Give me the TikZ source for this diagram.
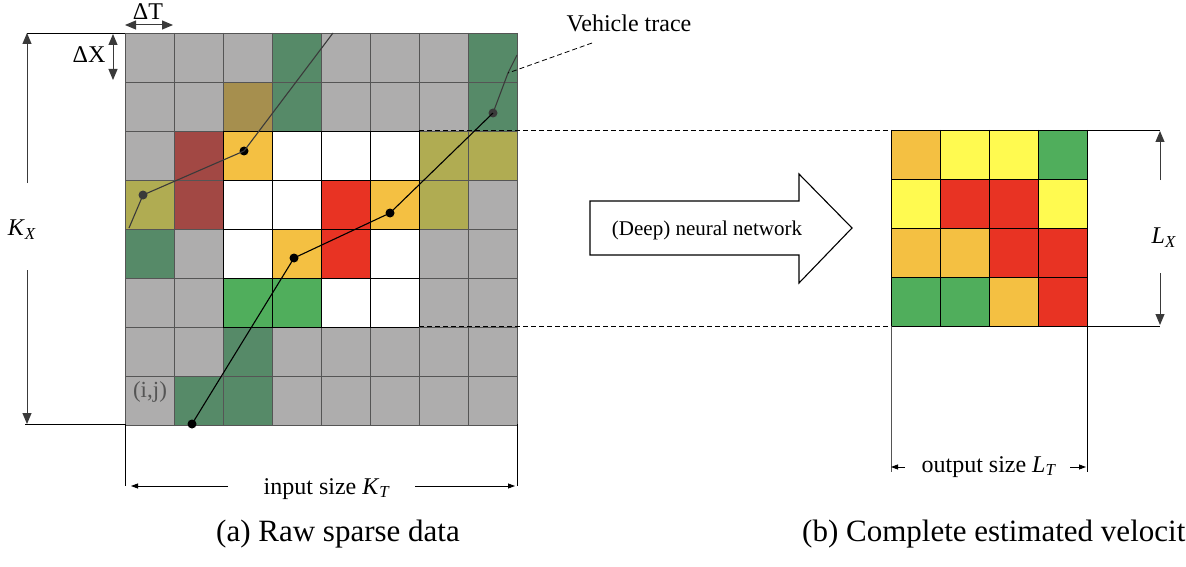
\documentclass[tikz,border=0pt]{standalone}
\usepackage{fontspec}
\setmainfont{Liberation Serif}
\usetikzlibrary{arrows.meta}
\definecolor{cG}{HTML}{AEADAD}
\definecolor{cDG}{HTML}{568A68}
\definecolor{cDR}{HTML}{A24844}
\definecolor{cOB}{HTML}{A68F4E}
\definecolor{cOL}{HTML}{B0AC52}
\definecolor{cO}{HTML}{F4C042}
\definecolor{cR}{HTML}{E83323}
\definecolor{cGr}{HTML}{50AE5C}
\definecolor{cY}{HTML}{FFFA50}
\definecolor{cW}{HTML}{FFFFFF}
\definecolor{cLine}{HTML}{555555}
\definecolor{cTrace}{HTML}{3A3A3A}
\begin{document}
\begin{tikzpicture}[x=1pt,y=-1pt,
  gline/.style={draw=cLine, line width=0.9pt},
  bline/.style={draw=black, line width=0.9pt},
  dimline/.style={draw=black, line width=0.7pt},
  bigarrow/.style={draw=cTrace, line width=1pt, -{Triangle[length=11pt,width=9pt]}},
  bigarrows/.style={draw=cTrace, line width=1pt, {Triangle[length=11pt,width=9pt]}-{Triangle[length=11pt,width=9pt]}},
  smallarrow/.style={draw=black, line width=0.8pt, -{Triangle[length=7pt,width=5pt]}},
  trace/.style={draw=cTrace, line width=1.1pt},
  btrace/.style={draw=black, line width=1.1pt},
  dot/.style={circle, fill=black, inner sep=0pt, minimum size=9pt},
  gdot/.style={circle, fill=cTrace, inner sep=0pt, minimum size=9pt},
  leader/.style={draw=black, line width=0.8pt, dash pattern=on 5pt off 3pt},
  lbl/.style={inner sep=0pt, font=\fontsize{24}{27}\selectfont},
  captxt/.style={inner sep=0pt, font=\fontsize{31}{35}\selectfont}]
\useasboundingbox (0,0) rectangle (1186,567);
% left grid cells
\foreach \row [count=\r from 0] in {{cG,cG,cG,cDG,cG,cG,cG,cDG},{cG,cG,cOB,cDG,cG,cG,cG,cDG},{cG,cDR,cO,cW,cW,cW,cOL,cOL},{cOL,cDR,cW,cW,cR,cO,cOL,cG},{cDG,cG,cW,cO,cR,cW,cG,cG},{cG,cG,cGr,cGr,cW,cW,cG,cG},{cG,cG,cDG,cG,cG,cG,cG,cG},{cG,cDG,cDG,cG,cG,cG,cG,cG}}
  \foreach \col [count=\c from 0] in \row
    \fill[fill=\col] ({125+49*\c},{33+49*\r}) rectangle ++(49,49);
\foreach \i in {0,...,8} {
  \draw[gline] ({125+49*\i},33) -- ({125+49*\i},425);
  \draw[gline] (125,{33+49*\i}) -- (517,{33+49*\i});
}
\foreach \i in {0,...,4} {
  \draw[bline] ({223+49*\i},131) -- ({223+49*\i},327);
  \draw[bline] (223,{131+49*\i}) -- (419,{131+49*\i});
}
\node[lbl, text=cLine, font=\fontsize{23}{26}\selectfont] (ij) at (150,392) {(i,j)};
% right grid cells
\foreach \row [count=\r from 0] in {{cO,cY,cY,cGr},{cY,cR,cR,cY},{cO,cO,cR,cR},{cGr,cGr,cO,cR}}
  \foreach \col [count=\c from 0] in \row
    \fill[fill=\col] ({891+49*\c},{130+49*\r}) rectangle ++(49,49);
\foreach \i in {0,...,4} {
  \draw[bline] ({891+49*\i},130) -- ({891+49*\i},326);
  \draw[bline] (891,{130+49*\i}) -- (1087,{130+49*\i});
}
% vehicle traces
\coordinate (t1a) at (129,228);
\node[gdot] (t1b) at (143,195) {};
\node[dot] (t1c) at (244,151) {};
\coordinate (t1d) at (333,33);
\draw[trace] (t1a) -- (t1b.center) -- (t1c.center) -- (t1d);
\node[dot] (t2a) at (192,424) {};
\node[dot] (t2b) at (294,258) {};
\node[dot] (t2c) at (390,213) {};
\node[gdot] (t2d) at (493,113) {};
\coordinate (t2e) at (508,73);
\coordinate (t2f) at (517,55);
\draw[btrace] (t2a.center) -- (t2b.center) -- (t2c.center) -- (t2d.center);
\draw[trace] (t2d.center) -- (t2e) -- (t2f);
\node[lbl, anchor=base] (vt) at (629,32) {Vehicle trace};
\coordinate (vtl) at (592,43);
\draw[leader] (vtl) -- (t2e);
% dashed projection lines
\coordinate (dt1) at (419,130);
\coordinate (dt2) at (891,130);
\coordinate (db1) at (419,326);
\coordinate (db2) at (891,326);
\draw[leader] (dt1) -- (dt2);
\draw[leader] (db1) -- (db2);
% block arrow
\draw[draw=black, line width=1.1pt, fill=white] (590,201) -- (799,201) -- (799,174) -- (852,228) -- (799,283) -- (799,255) -- (590,255) -- cycle;
\node[inner sep=0pt, font=\fontsize{21}{24}\selectfont, anchor=base] (nn) at (707,235) {(Deep) neural network};
% Delta T / Delta X
\node[lbl] (dT) at (148,12) {ΔT};
\coordinate (dTa) at (125,25);
\coordinate (dTb) at (173,25);
\draw[bigarrows] (dTa) -- (dTb);
\node[lbl] (dX) at (89,55) {ΔX};
\coordinate (dXa) at (113,34);
\coordinate (dXb) at (113,80);
\draw[bigarrows] (dXa) -- (dXb);
% K_X
\coordinate (kl1) at (27,33);
\coordinate (kl2) at (125,33);
\coordinate (kl3) at (25,424);
\coordinate (kl4) at (125,424);
\draw[dimline] (kl1) -- (kl2);
\draw[dimline] (kl3) -- (kl4);
\node[lbl] (kx) at (22,230) {\textit{K}\textsubscript{\textit{X}}};
\coordinate (kxu1) at (27,183);
\coordinate (kxu2) at (27,33);
\coordinate (kxd1) at (27,270);
\coordinate (kxd2) at (27,424);
\draw[bigarrow] (kxu1) -- (kxu2);
\draw[bigarrow] (kxd1) -- (kxd2);
% input size
\coordinate (iv1) at (125,424);
\coordinate (iv2) at (125,486);
\coordinate (iv3) at (517,424);
\coordinate (iv4) at (517,486);
\draw[dimline] (iv1) -- (iv2);
\draw[dimline] (iv3) -- (iv4);
\node[lbl, anchor=base] (ks) at (327,494) {input size \textit{K}\textsubscript{\textit{T}}};
\coordinate (ia1) at (228,486);
\coordinate (ia2) at (131,486);
\coordinate (ia3) at (415,486);
\coordinate (ia4) at (515,486);
\draw[smallarrow] (ia1) -- (ia2);
\draw[smallarrow] (ia3) -- (ia4);
% L_X
\coordinate (lh1) at (1087,130);
\coordinate (lh2) at (1160,130);
\coordinate (lh3) at (1087,326);
\coordinate (lh4) at (1160,326);
\draw[dimline] (lh1) -- (lh2);
\draw[dimline] (lh3) -- (lh4);
\node[lbl] (lx) at (1164,238) {\textit{L}\textsubscript{\textit{X}}};
\coordinate (lxu1) at (1160,180);
\coordinate (lxu2) at (1160,131);
\coordinate (lxd1) at (1160,273);
\coordinate (lxd2) at (1160,325);
\draw[bigarrow] (lxu1) -- (lxu2);
\draw[bigarrow] (lxd1) -- (lxd2);
% output size
\coordinate (ov1) at (891,326);
\coordinate (ov2) at (891,472);
\coordinate (ov3) at (1087,326);
\coordinate (ov4) at (1087,472);
\draw[dimline, draw=cLine] (ov1) -- (ov2);
\draw[dimline] (ov3) -- (ov4);
\node[lbl, anchor=base] (ls) at (989,472) {output size \textit{L}\textsubscript{\textit{T}}};
\coordinate (oa1) at (905,467);
\coordinate (oa2) at (891,467);
\coordinate (oa3) at (1070,467);
\coordinate (oa4) at (1086,467);
\draw[smallarrow] (oa1) -- (oa2);
\draw[smallarrow] (oa3) -- (oa4);
% captions
\node[captxt, anchor=base] (capa) at (338,541) {(a) Raw sparse data};
\node[captxt, anchor=base west] (capb) at (802,541) {(b) Complete estimated velocit};
\end{tikzpicture}
\end{document}
